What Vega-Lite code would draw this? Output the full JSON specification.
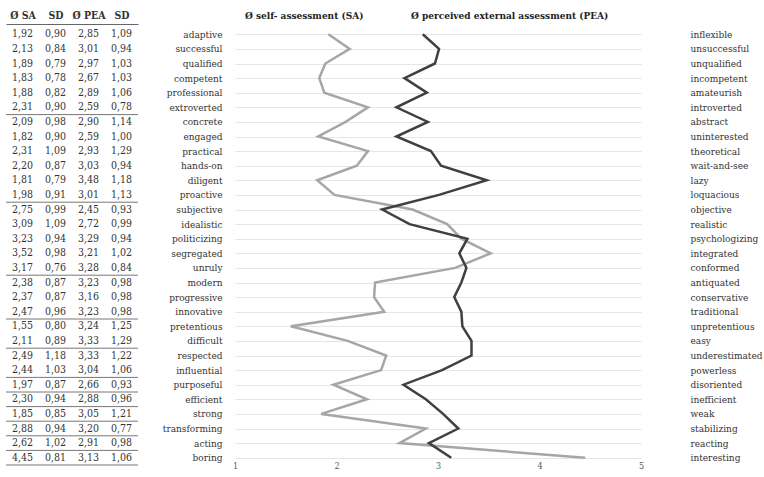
{
  "$schema": "https://vega.github.io/schema/vega-lite/v6.json",
  "padding": {"left": 5, "top": 10, "right": 0, "bottom": 0},
  "background": "white",
  "config": {
    "locale": {"number": {"decimal": ",", "thousands": ".", "grouping": [3], "currency": ["", " €"]}},
    "font": "DejaVu Serif Condensed",
    "view": {"stroke": null}
  },
  "datasets": {
    "items": [
      {"idx": 1, "term": "adaptive", "anti": "inflexible", "sa": 1.92, "sd1": 0.90, "pea": 2.85, "sd2": 1.09, "sep": false},
      {"idx": 2, "term": "successful", "anti": "unsuccessful", "sa": 2.13, "sd1": 0.84, "pea": 3.01, "sd2": 0.94, "sep": false},
      {"idx": 3, "term": "qualified", "anti": "unqualified", "sa": 1.89, "sd1": 0.79, "pea": 2.97, "sd2": 1.03, "sep": false},
      {"idx": 4, "term": "competent", "anti": "incompetent", "sa": 1.83, "sd1": 0.78, "pea": 2.67, "sd2": 1.03, "sep": false},
      {"idx": 5, "term": "professional", "anti": "amateurish", "sa": 1.88, "sd1": 0.82, "pea": 2.89, "sd2": 1.06, "sep": false},
      {"idx": 6, "term": "extroverted", "anti": "introverted", "sa": 2.31, "sd1": 0.90, "pea": 2.59, "sd2": 0.78, "sep": true},
      {"idx": 7, "term": "concrete", "anti": "abstract", "sa": 2.09, "sd1": 0.98, "pea": 2.90, "sd2": 1.14, "sep": false},
      {"idx": 8, "term": "engaged", "anti": "uninterested", "sa": 1.82, "sd1": 0.90, "pea": 2.59, "sd2": 1.00, "sep": false},
      {"idx": 9, "term": "practical", "anti": "theoretical", "sa": 2.31, "sd1": 1.09, "pea": 2.93, "sd2": 1.29, "sep": false},
      {"idx": 10, "term": "hands-on", "anti": "wait-and-see", "sa": 2.20, "sd1": 0.87, "pea": 3.03, "sd2": 0.94, "sep": false},
      {"idx": 11, "term": "diligent", "anti": "lazy", "sa": 1.81, "sd1": 0.79, "pea": 3.48, "sd2": 1.18, "sep": false},
      {"idx": 12, "term": "proactive", "anti": "loquacious", "sa": 1.98, "sd1": 0.91, "pea": 3.01, "sd2": 1.13, "sep": true},
      {"idx": 13, "term": "subjective", "anti": "objective", "sa": 2.75, "sd1": 0.99, "pea": 2.45, "sd2": 0.93, "sep": false},
      {"idx": 14, "term": "idealistic", "anti": "realistic", "sa": 3.09, "sd1": 1.09, "pea": 2.72, "sd2": 0.99, "sep": false},
      {"idx": 15, "term": "politicizing", "anti": "psychologizing", "sa": 3.23, "sd1": 0.94, "pea": 3.29, "sd2": 0.94, "sep": false},
      {"idx": 16, "term": "segregated", "anti": "integrated", "sa": 3.52, "sd1": 0.98, "pea": 3.21, "sd2": 1.02, "sep": false},
      {"idx": 17, "term": "unruly", "anti": "conformed", "sa": 3.17, "sd1": 0.76, "pea": 3.28, "sd2": 0.84, "sep": true},
      {"idx": 18, "term": "modern", "anti": "antiquated", "sa": 2.38, "sd1": 0.87, "pea": 3.23, "sd2": 0.98, "sep": false},
      {"idx": 19, "term": "progressive", "anti": "conservative", "sa": 2.37, "sd1": 0.87, "pea": 3.16, "sd2": 0.98, "sep": false},
      {"idx": 20, "term": "innovative", "anti": "traditional", "sa": 2.47, "sd1": 0.96, "pea": 3.23, "sd2": 0.98, "sep": true},
      {"idx": 21, "term": "pretentious", "anti": "unpretentious", "sa": 1.55, "sd1": 0.80, "pea": 3.24, "sd2": 1.25, "sep": false},
      {"idx": 22, "term": "difficult", "anti": "easy", "sa": 2.11, "sd1": 0.89, "pea": 3.33, "sd2": 1.29, "sep": true},
      {"idx": 23, "term": "respected", "anti": "underestimated", "sa": 2.49, "sd1": 1.18, "pea": 3.33, "sd2": 1.22, "sep": false},
      {"idx": 24, "term": "influential", "anti": "powerless", "sa": 2.44, "sd1": 1.03, "pea": 3.04, "sd2": 1.06, "sep": true},
      {"idx": 25, "term": "purposeful", "anti": "disoriented", "sa": 1.97, "sd1": 0.87, "pea": 2.66, "sd2": 0.93, "sep": true},
      {"idx": 26, "term": "efficient", "anti": "inefficient", "sa": 2.30, "sd1": 0.94, "pea": 2.88, "sd2": 0.96, "sep": true},
      {"idx": 27, "term": "strong", "anti": "weak", "sa": 1.85, "sd1": 0.85, "pea": 3.05, "sd2": 1.21, "sep": true},
      {"idx": 28, "term": "transforming", "anti": "stabilizing", "sa": 2.88, "sd1": 0.94, "pea": 3.20, "sd2": 0.77, "sep": true},
      {"idx": 29, "term": "acting", "anti": "reacting", "sa": 2.62, "sd1": 1.02, "pea": 2.91, "sd2": 0.98, "sep": true},
      {"idx": 30, "term": "boring", "anti": "interesting", "sa": 4.45, "sd1": 0.81, "pea": 3.13, "sd2": 1.06, "sep": true}
    ]
  },
  "data": {"name": "items"},
  "spacing": 6,
  "resolve": {"scale": {"x": "independent", "y": "independent", "color": "independent"}},
  "hconcat": [
    {
      "width": 132,
      "height": 438,
      "layer": [
        {
          "transform": [{"fold": ["sa", "sd1", "pea", "sd2"], "as": ["col", "val"]}],
          "mark": {"type": "text", "fontSize": 10.5, "color": "#333333"},
          "encoding": {
            "x": {
              "field": "col", "type": "nominal",
              "scale": {"domain": ["sa", "sd1", "pea", "sd2"], "paddingInner": 0, "paddingOuter": 0},
              "axis": {
                "orient": "top", "title": null, "ticks": false, "labelAngle": 0,
                "labelFontSize": 10.5, "labelFontWeight": "bold", "labelColor": "#333333",
                "labelPadding": 4, "domainColor": "#666666", "domainWidth": 1, "offset": 3,
                "labelExpr": "datum.value == 'sa' ? 'Ø SA' : datum.value == 'pea' ? 'Ø PEA' : 'SD'"
              }
            },
            "y": {"field": "term", "type": "nominal", "sort": {"field": "idx", "op": "min"}, "scale": {"paddingInner": 0, "paddingOuter": 0}, "axis": null},
            "text": {"field": "val", "type": "quantitative", "format": ".2f"}
          }
        },
        {
          "transform": [{"filter": "datum.sep"}],
          "mark": {"type": "rule", "color": "#777777", "strokeWidth": 1},
          "encoding": {
            "y": {"field": "term", "type": "nominal", "sort": {"field": "idx", "op": "min"}, "bandPosition": 1}
          }
        }
      ]
    },
    {
      "width": 406,
      "height": 438,
      "layer": [
        {
          "transform": [{"fold": ["sa", "pea"], "as": ["series", "value"]}],
          "mark": {"type": "line", "strokeWidth": 2.5},
          "encoding": {
            "x": {
              "field": "value", "type": "quantitative",
              "scale": {"domain": [1, 5], "nice": false, "zero": false},
              "axis": {"values": [1, 2, 3, 4, 5], "format": "d", "title": null, "grid": false, "domain": false, "ticks": false,
                       "labelFlush": false,
                       "labelFontSize": 9, "labelColor": "#595959", "labelPadding": -4}
            },
            "y": {
              "field": "term", "type": "nominal", "sort": {"field": "idx", "op": "min"},
              "scale": {"paddingInner": 0, "paddingOuter": 0},
              "axis": {"orient": "left", "title": null, "ticks": false, "domain": false, "grid": true,
                       "gridColor": "#e6e6e6", "gridWidth": 1, "labelFontSize": 10, "labelColor": "#333333",
                       "labelPadding": 13, "minExtent": 90, "maxExtent": 90}
            },
            "order": {"field": "idx", "type": "quantitative"},
            "color": {
              "field": "series", "type": "nominal",
              "scale": {"domain": ["sa", "pea"], "range": ["#a6a6a6", "#404040"]},
              "legend": {
                "orient": "top", "direction": "horizontal", "title": null,
                "labelExpr": "datum.value == 'sa' ? 'Ø self- assessment (SA)' : 'Ø perceived external assessment (PEA)'",
                "labelFontSize": 10, "labelFontWeight": "bold", "labelColor": "#222222",
                "labelLimit": 400,
                "symbolSize": 0, "symbolStrokeWidth": 0, "symbolOpacity": 0, "labelOffset": 0,
                "columnPadding": 37, "offset": 6, "padding": 0
              }
            }
          }
        },
        {
          "mark": {"type": "point", "opacity": 0},
          "encoding": {
            "x": {"field": "sa", "type": "quantitative"},
            "y": {
              "field": "anti", "type": "nominal", "sort": {"field": "idx", "op": "min"},
              "scale": {"paddingInner": 0, "paddingOuter": 0},
              "axis": {"orient": "right", "title": null, "ticks": false, "domain": false, "grid": false,
                       "labelFontSize": 10, "labelColor": "#333333", "labelPadding": 49}
            }
          }
        }
      ],
      "resolve": {"scale": {"y": "independent"}}
    }
  ]
}
